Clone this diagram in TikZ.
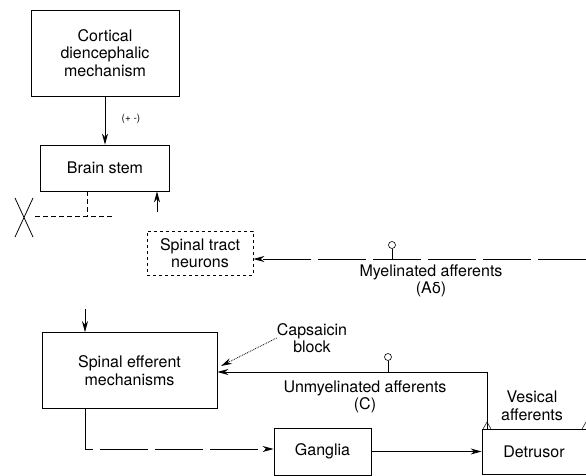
\documentclass[tikz,border=0pt]{standalone}
\usepackage{fontspec}
\setmainfont{TeX Gyre Heros}
\newfontfamily\gkfont{DejaVu Sans}
\usetikzlibrary{arrows.meta}
\begin{document}
\begin{tikzpicture}[x=1pt,y=-1pt,
  box/.style={draw, line width=0.8pt, align=center, inner sep=0pt, font=\fontsize{16}{17.5}\selectfont},
  lbl/.style={align=center, inner sep=0pt, font=\fontsize{16}{17.5}\selectfont},
  arr/.style={-{Stealth[length=11pt,width=6pt]}, line width=0.8pt},
  ln/.style={line width=0.8pt},
  soma/.style={circle, draw, line width=0.6pt, inner sep=0pt, minimum size=7pt},
  brk/.style={dash pattern=on 5pt off 3pt},
  longbrk/.style={dash pattern=on 48pt off 7pt}]
\useasboundingbox (0,0) rectangle (586,476);
% boxes
\node[box, minimum width=148pt, minimum height=86pt] (cort) at (105,53) {Cortical\\diencephalic\\mechanism};
\node[box, minimum width=129pt, minimum height=46pt] (brain) at (105,168) {Brain stem};
\node[box, dashed, minimum width=106pt, minimum height=44pt] (tract) at (200,253) {Spinal tract\\neurons};
\node[box, minimum width=175pt, minimum height=76pt] (eff) at (129.5,370.5) {Spinal efferent\\mechanisms};
\node[box, minimum width=97pt, minimum height=47pt] (gang) at (322.5,451.5) {Ganglia};
\node[box, minimum width=104pt, minimum height=45pt] (detr) at (534,451.5) {Detrusor};
% labels
\node[lbl, font=\fontsize{10}{12}\selectfont] (pm) at (131,119) {(+ -)};
\node[lbl] (myel) at (431,281) {Myelinated afferents\\({A\gkfont\fontsize{15}{17}\selectfont δ})};
\node[lbl] (caps) at (312,338) {Capsaicin\\block};
\node[lbl] (unmy) at (365,397) {Unmyelinated afferents\\(C)};
\node[lbl] (ves) at (532,406) {Vesical\\afferents};
% cortical -> brain stem
\draw[arr] (cort) -- (brain);
% brain stem descending, cut
\coordinate (bd) at (87,216);
\coordinate (xl) at (35,216);
\coordinate (xr) at (112,216);
\draw[ln, brk] (brain.south -| bd) -- (bd);
\draw[ln, brk] (xl) -- (xr);
\draw[ln] (15,198) -- (33,237) (33,198) -- (15,237);
% ascending into brain stem
\coordinate (ua) at (157,212);
\draw[arr] (ua) -- (brain.south -| ua);
% myelinated afferents
\coordinate (mr) at (586,259);
\draw[arr, longbrk] (mr) -- (tract.east |- mr);
\node[soma] (s1) at (392,245) {};
\coordinate (m1) at (392,259);
\draw[ln] (s1) -- (m1);
% descending into spinal efferent
\coordinate (da) at (85,309);
\draw[arr] (da) -- (eff.north -| da);
% capsaicin block
\coordinate (ce) at (221,366);
\draw[arr, densely dotted] (caps.west) -- (ce);
% unmyelinated afferents
\coordinate (uc) at (487,372);
\draw[arr] (detr.north -| uc) -- (uc) -- (eff.east |- uc);
\node[soma] (s2) at (388,357) {};
\coordinate (m2) at (388,372);
\draw[ln] (s2) -- (m2);
% spinal efferent -> ganglia -> detrusor
\coordinate (eg) at (85,449);
\draw[arr, longbrk] (eff.south -| eg) -- (eg) -- (gang.west |- eg);
\draw[arr] (gang) -- (detr);
% small marks on detrusor
\draw[line width=0.5pt] (483,429) -- (487,422) -- (491,429);
\draw[line width=0.5pt] (582,429) -- (586,422);
\end{tikzpicture}
\end{document}
